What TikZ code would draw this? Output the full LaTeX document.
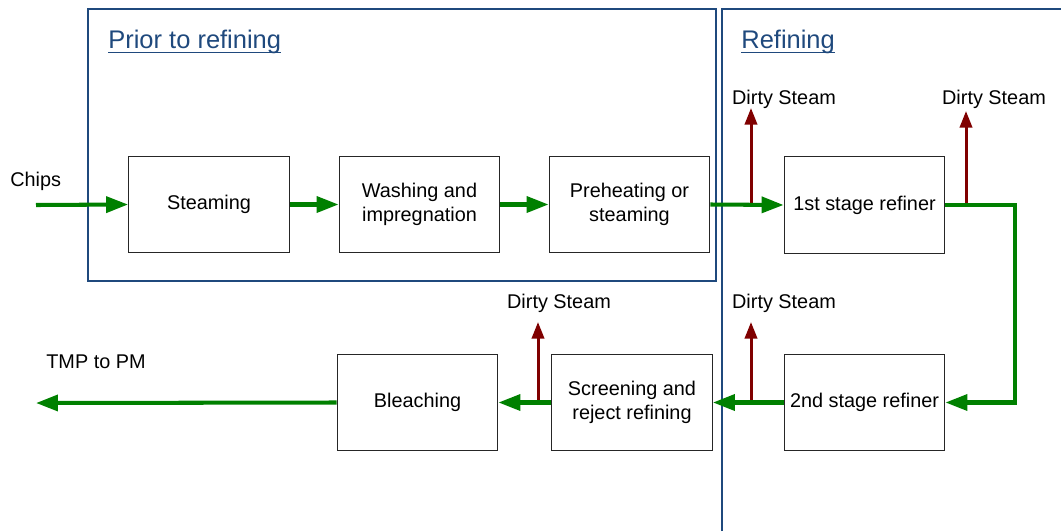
\documentclass[tikz,border=0pt]{standalone}
\usepackage{fontspec}
\setmainfont{Liberation Sans}
\usetikzlibrary{arrows.meta}
\definecolor{frameblue}{HTML}{1F497D}
\definecolor{flowgreen}{RGB}{0,128,0}
\definecolor{steamred}{RGB}{128,0,0}
\begin{document}
\begin{tikzpicture}[x=0.02cm,y=-0.02cm,
  procbox/.style={draw=black!85, line width=0.6pt, minimum width=91.5pt, minimum height=55pt, inner sep=1pt, align=center, font=\fontsize{11.3}{14}\selectfont},
  garrow/.style={draw=flowgreen, line width=2.3pt, -{Triangle[length=12.5pt,width=9pt]}},
  gline/.style={draw=flowgreen, line width=2.3pt},
  rarrow/.style={draw=steamred, line width=1.7pt, -{Triangle[length=9.5pt,width=7pt]}},
  lbl/.style={inner sep=0pt, font=\fontsize{11.3}{14}\selectfont},
  ttl/.style={inner sep=0pt, text=frameblue, font=\fontsize{14.5}{17}\selectfont},
  framel/.style={draw=frameblue, line width=0.85pt}]
\useasboundingbox (0,0) rectangle (1061,531);
% frames
\draw[framel] (88,9) rectangle (716,281);
\draw[framel] (722,531) -- (722,9) -- (1061,9);
\node[ttl, anchor=base west] (t1) at (108,48) {Prior to refining};
\node[ttl, anchor=base west] (t2) at (741,48) {Refining};
\draw[frameblue, line width=0.6pt] ([yshift=-2.3pt]t1.base west) -- ([yshift=-2.3pt]t1.base east);
\draw[frameblue, line width=0.6pt] ([yshift=-2.3pt]t2.base west) -- ([yshift=-2.3pt]t2.base east);
% boxes
\node[procbox] (steam) at (209,204.5) {Steaming};
\node[procbox] (wash) at (419.5,204.5) {Washing and\\impregnation};
\node[procbox] (preh) at (629.5,204.5) {Preheating or\\steaming};
\node[procbox] (r1) at (864.5,205) {1st stage refiner};
\node[procbox] (r2) at (864.5,402.5) {2nd stage refiner};
\node[procbox] (scr) at (632,402.5) {Screening and\\reject refining};
\node[procbox] (bl) at (417.5,402.5) {Bleaching};
% labels
\node[lbl, anchor=base west] (chips) at (10,186) {Chips};
\node[lbl, anchor=base west] (tmp) at (46,368) {TMP to PM};
\node[lbl, anchor=base] (ds1) at (784,104) {Dirty Steam};
\node[lbl, anchor=base] (ds2) at (994,104) {Dirty Steam};
\node[lbl, anchor=base] (ds3) at (784,308) {Dirty Steam};
\node[lbl, anchor=base] (ds4) at (559,308) {Dirty Steam};
% coordinates
\coordinate (cin) at (36,205);
\coordinate (cout) at (36,403);
\coordinate (c1) at (1015,205);
\coordinate (s1) at (751,205);
\coordinate (s2) at (966,205);
\coordinate (s3) at (751,403);
\coordinate (s4) at (538,403);
\coordinate (t1tip) at (751,108);
\coordinate (t2tip) at (966,111);
\coordinate (t3tip) at (751,322);
\coordinate (t4tip) at (538,322);
% steam arrows
\draw[rarrow] (s1) -- (t1tip);
\draw[rarrow] (s2) -- (t2tip);
\draw[rarrow] (s3) -- (t3tip);
\draw[rarrow] (s4) -- (t4tip);
% flow
\draw[garrow] (cin) -- (steam.west);
\draw[garrow] (steam.east) -- (wash.west);
\draw[garrow] (wash.east) -- (preh.west);
\draw[garrow] (preh.east) -- (r1.west);
\draw[garrow] (r1.east) -- (c1) |- (r2.east);
\draw[garrow] (r2.west) -- (scr.east);
\draw[garrow] (scr.west) -- (bl.east);
\draw[garrow] (bl.west) -- (cout);
\end{tikzpicture}
\end{document}
